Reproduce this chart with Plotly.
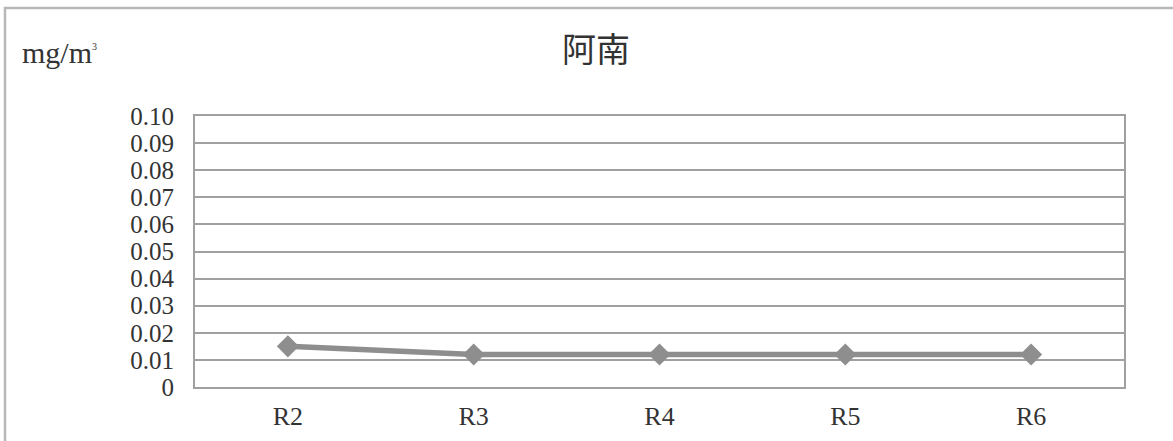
import plotly.graph_objects as go

categories = ["R2", "R3", "R4", "R5", "R6"]
values = [0.015, 0.012, 0.012, 0.012, 0.012]
y_ticks = [0, 0.01, 0.02, 0.03, 0.04, 0.05, 0.06, 0.07, 0.08, 0.09, 0.10]
y_tick_labels = ["0", "0.01", "0.02", "0.03", "0.04", "0.05", "0.06", "0.07", "0.08", "0.09", "0.10"]
title_text = "阿南"
unit_text = "mg/m<sup><span style='font-size:10px'>3</span></sup>"

W, H = 1173, 441
L, R, T, B = 195, 49, 116, 54

fig = go.Figure()
fig.add_trace(go.Scatter(
    x=categories, y=values, mode="lines+markers",
    line=dict(color="#8e8e8e", width=5.5),
    marker=dict(symbol="diamond", size=17, color="#8e8e8e"),
    showlegend=False, hoverinfo="skip",
))

serif = "Liberation Serif, DejaVu Serif, serif"
pw = W - L - R
ph = H - T - B

fig.update_layout(
    width=W, height=H,
    margin=dict(l=L, r=R, t=T, b=B, autoexpand=False),
    paper_bgcolor="white", plot_bgcolor="white",
    title=dict(text=title_text, x=596 / W, xanchor="center", xref="container",
               y=1 - 50 / H, yanchor="middle",
               font=dict(family="Noto Sans CJK SC", size=34, color="#333333")),
    xaxis=dict(
        type="category", range=[-0.5, 4.5], automargin=False,
        showgrid=False, showline=True, mirror=True, linecolor="#a0a0a0", linewidth=2,
        ticks="", tickfont=dict(family=serif, size=26, color="#333333"),
        ticklabelstandoff=5, zeroline=False,
    ),
    yaxis=dict(
        range=[0, 0.1], tickvals=y_ticks, ticktext=y_tick_labels, automargin=False,
        showgrid=True, gridcolor="#a0a0a0", gridwidth=2,
        showline=True, mirror=True, linecolor="#a0a0a0", linewidth=2,
        ticks="", tickfont=dict(family=serif, size=25, color="#333333"),
        ticklabelstandoff=14, zeroline=False,
    ),
    annotations=[dict(
        text=unit_text, xref="paper", yref="paper",
        x=(20 - L) / pw, y=(H - B - 52) / ph, xanchor="left", yanchor="middle",
        showarrow=False, font=dict(family=serif, size=30, color="#333333"),
    )],
    shapes=[dict(
        type="rect", xref="paper", yref="paper",
        x0=(5 - L) / pw, x1=(W + 20 - L) / pw,
        y0=(H - B - (H + 20)) / ph, y1=(H - B - 8) / ph,
        line=dict(color="#b8b8b8", width=2.5), fillcolor="rgba(0,0,0,0)",
        layer="below",
    )],
)

fig.write_html("out.html")
